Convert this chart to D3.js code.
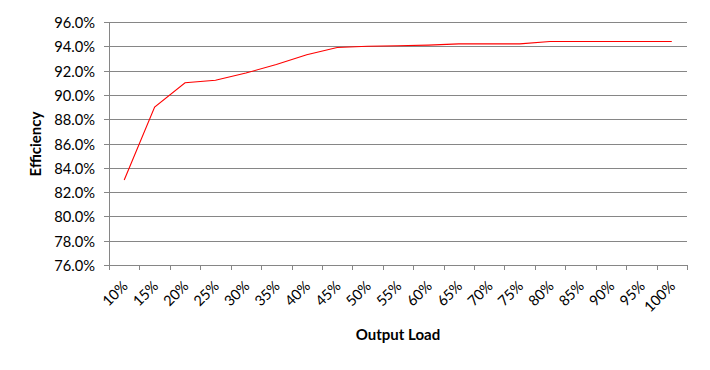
<!DOCTYPE html>
<html><head><meta charset="utf-8">
<script src="https://cdn.jsdelivr.net/npm/d3@7"></script>
<style>body{margin:0;background:#fff}svg{display:block}</style>
</head><body>
<svg id="c" width="710" height="370"></svg>
<script>
const categories = ["10%","15%","20%","25%","30%","35%","40%","45%","50%","55%","60%","65%","70%","75%","80%","85%","90%","95%","100%"];
const efficiency = [83.0,89.0,91.0,91.2,91.8,92.5,93.3,93.9,94.0,94.05,94.1,94.2,94.2,94.2,94.4,94.4,94.4,94.4,94.4];
const yTicks = [76,78,80,82,84,86,88,90,92,94,96];

(function(){
const svg = d3.select("#c");
const pL = 109, pR = 687, pT = 22, pB = 265;
const font = "Lato, 'Open Sans', sans-serif";
const x = d3.scaleBand().domain(categories).range([pL, pR]);
const y = d3.scaleLinear().domain([76, 96]).range([pB, pT]);
const grid = "#868686";

svg.append("g").selectAll("line").data(yTicks).join("line")
  .attr("x1", pL - 5).attr("x2", pR)
  .attr("y1", d => Math.round(y(d)) + 0.5).attr("y2", d => Math.round(y(d)) + 0.5)
  .attr("stroke", grid).attr("stroke-width", 1);

svg.append("g").selectAll("text").data(yTicks).join("text")
  .attr("x", 95).attr("y", d => y(d) + 6)
  .attr("text-anchor", "end").attr("font-family", font).attr("font-size", 14.7)
  .attr("fill", "#000").text(d => d.toFixed(1) + "%");

svg.append("line").attr("x1", pL + 0.5).attr("x2", pL + 0.5)
  .attr("y1", pT).attr("y2", pB).attr("stroke", grid);

const bounds = categories.map(c => x(c)).concat([pR]);
svg.append("g").selectAll("line").data(bounds).join("line")
  .attr("x1", d => Math.round(d) + 0.5).attr("x2", d => Math.round(d) + 0.5)
  .attr("y1", pB).attr("y2", pB + 5).attr("stroke", grid);

svg.append("g").selectAll("text").data(categories).join("text")
  .attr("transform", d => `translate(${x(d) + x.bandwidth()/2 + 4.5},${pB + 22}) rotate(-45)`)
  .attr("text-anchor", "end")
  .attr("font-family", font).attr("font-size", 14.5).attr("fill", "#000").text(d => d);

const line = d3.line().x((d, i) => x(categories[i]) + x.bandwidth()/2).y(d => y(d));
svg.append("path").datum(efficiency).attr("d", line)
  .attr("fill", "none").attr("stroke", "#ff0000").attr("stroke-width", 1.1);

svg.append("text").attr("x", 398).attr("y", 340).attr("text-anchor", "middle")
  .attr("font-family", font).attr("font-weight", "bold").attr("font-size", 15).text("Output Load");
svg.append("text").attr("transform", "translate(41,144) rotate(-90)").attr("text-anchor", "middle")
  .attr("font-family", font).attr("font-weight", "bold").attr("font-size", 15).text("Efficiency");
})();
</script>
</body></html>
